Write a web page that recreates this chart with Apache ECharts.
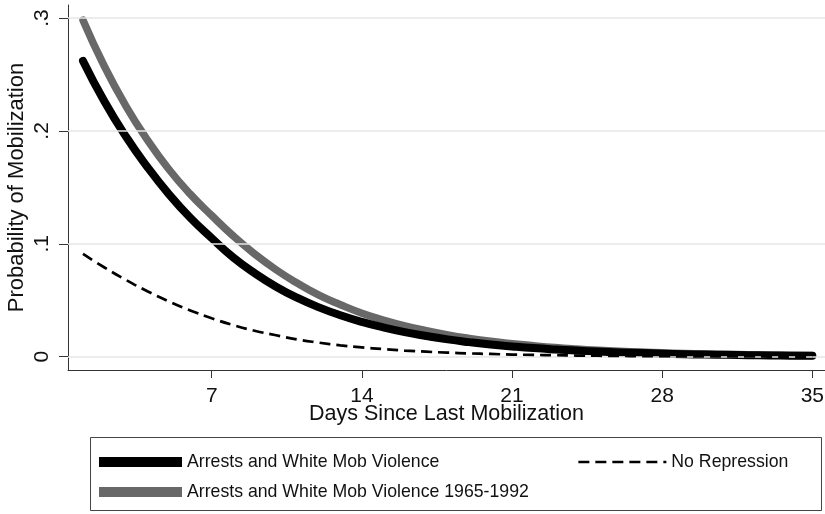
<!DOCTYPE html>
<html>
<head>
<meta charset="utf-8">
<script src="https://cdn.jsdelivr.net/npm/echarts@6/dist/echarts.min.js"></script>
<style>
html,body{margin:0;padding:0;background:#fff;}
#chart{width:825px;height:514px;}
</style>
</head>
<body>
<div id="chart"></div>
<script>
const days = [1,2,3,4,5,6,7,8,9,10,11,12,13,14,15,16,17,18,19,20,21,22,23,24,25,26,27,28,29,30,31,32,33,34,35];
const arrestsMob = [0.262,0.226,0.195,0.168,0.144,0.123,0.105,0.088,0.074,0.062,0.052,0.0437,0.0367,0.0308,0.0259,0.0217,0.0183,0.0153,0.0129,0.0108,0.0091,0.0076,0.0064,0.0054,0.0045,0.0038,0.0032,0.0027,0.0022,0.0019,0.0016,0.0013,0.0011,0.0009,0.0008];
const arrestsMob6592 = [0.298,0.257,0.222,0.192,0.166,0.144,0.125,0.107,0.091,0.077,0.065,0.0545,0.046,0.0385,0.0325,0.0273,0.023,0.0193,0.0162,0.0136,0.0115,0.0097,0.0081,0.0068,0.0057,0.0048,0.0041,0.0034,0.0029,0.0024,0.002,0.0017,0.0014,0.0012,0.001];
const noRepression = [0.091,0.079,0.068,0.058,0.049,0.041,0.034,0.028,0.023,0.019,0.0152,0.0124,0.010,0.0082,0.0067,0.0054,0.0044,0.0036,0.0029,0.0024,0.0019,0.0016,0.0013,0.001,0.0008,0.00065,0.0005,0.0004,0.0003,0.00025,0.0002,0.00016,0.00013,0.0001,0.00008];
const xTicks = [7,14,21,28,35];
const yTicks = [0,0.1,0.2,0.3];
const yTickLabels = ['0','.1','.2','.3'];
const seriesNames = ['Arrests and White Mob Violence','Arrests and White Mob Violence 1965-1992','No Repression'];

const FONT = 'Liberation Sans, Arial, sans-serif';
const chart = echarts.init(document.getElementById('chart'), null, {renderer:'canvas'});
const pairs = arr => days.map((d,i)=>[d,arr[i]]);
const legendText = {fontSize:17.7,fontFamily:FONT,color:'#111'};

chart.setOption({
  animation:false,
  backgroundColor:'#fff',
  textStyle:{fontFamily:FONT,color:'#111'},
  grid:{left:68,right:0,top:5,height:365,containLabel:false,outerBoundsMode:'none'},
  xAxis:{
    type:'value',scale:true,min:0.3,max:35.59,
    name:'Days Since Last Mobilization',nameLocation:'middle',nameGap:33,nameMoveOverlap:false,
    nameTextStyle:{fontSize:21.5,fontFamily:FONT,color:'#111'},
    axisLine:{show:true,onZero:false,lineStyle:{color:'#333',width:1}},
    axisTick:{show:true,length:8,customValues:xTicks,lineStyle:{color:'#333'}},
    axisLabel:{customValues:xTicks,fontSize:21,margin:16,color:'#111',fontFamily:FONT},
    splitLine:{show:false}
  },
  yAxis:{
    type:'value',scale:true,min:-0.0118,max:0.3115,
    name:'Probability of Mobilization',nameLocation:'middle',nameGap:40,nameRotate:90,nameMoveOverlap:false,
    nameTextStyle:{fontSize:22,fontFamily:FONT,color:'#111'},
    axisLine:{show:true,onZero:false,lineStyle:{color:'#333',width:1}},
    axisTick:{show:true,length:9,customValues:yTicks,lineStyle:{color:'#333'}},
    axisLabel:{customValues:yTicks,rotate:90,fontSize:21,margin:15,color:'#111',fontFamily:FONT,
      formatter:v=>{const i=yTicks.findIndex(t=>Math.abs(t-v)<1e-9);return i>=0?yTickLabels[i]:'';}},
    splitLine:{show:false}
  },
  legend:[
    {left:99,top:453,padding:0,itemWidth:83,itemHeight:10,textStyle:legendText,
     data:[{name:seriesNames[0],icon:'rect'}]},
    {left:99,top:483,padding:0,itemWidth:83,itemHeight:10,textStyle:legendText,
     data:[{name:seriesNames[1],icon:'rect'}]},
    {left:577,top:453,padding:0,itemWidth:88,itemHeight:10,textStyle:legendText,
     data:[{name:seriesNames[2],icon:'line',itemStyle:{color:'#000',borderColor:'#000',borderWidth:2.7,borderType:[11,6]}}]}
  ],
  graphic:[{type:'rect',shape:{x:90.5,y:437.5,width:731,height:73},style:{fill:'none',stroke:'#444',lineWidth:1},silent:true}],
  series:[
    {name:'grid',type:'line',data:[],z:1,silent:true,
     markLine:{silent:true,symbol:'none',label:{show:false},lineStyle:{color:'#e6e6e6',width:1.5,type:'solid'},
       data:yTicks.map(v=>({yAxis:v}))}},
    {name:seriesNames[1],type:'line',data:pairs(arrestsMob6592),smooth:true,symbol:'none',z:3,
     color:'#686868',lineStyle:{color:'#686868',width:7.5,cap:'round',join:'round'}},
    {name:seriesNames[0],type:'line',data:pairs(arrestsMob),smooth:true,symbol:'none',z:4,
     color:'#000',lineStyle:{color:'#000',width:8,cap:'round',join:'round'}},
    {name:seriesNames[2],type:'line',data:pairs(noRepression),smooth:true,symbol:'none',z:5,
     color:'#000',lineStyle:{color:'#000',width:2.7,type:[11,6]}}
  ]
});
</script>
</body>
</html>
